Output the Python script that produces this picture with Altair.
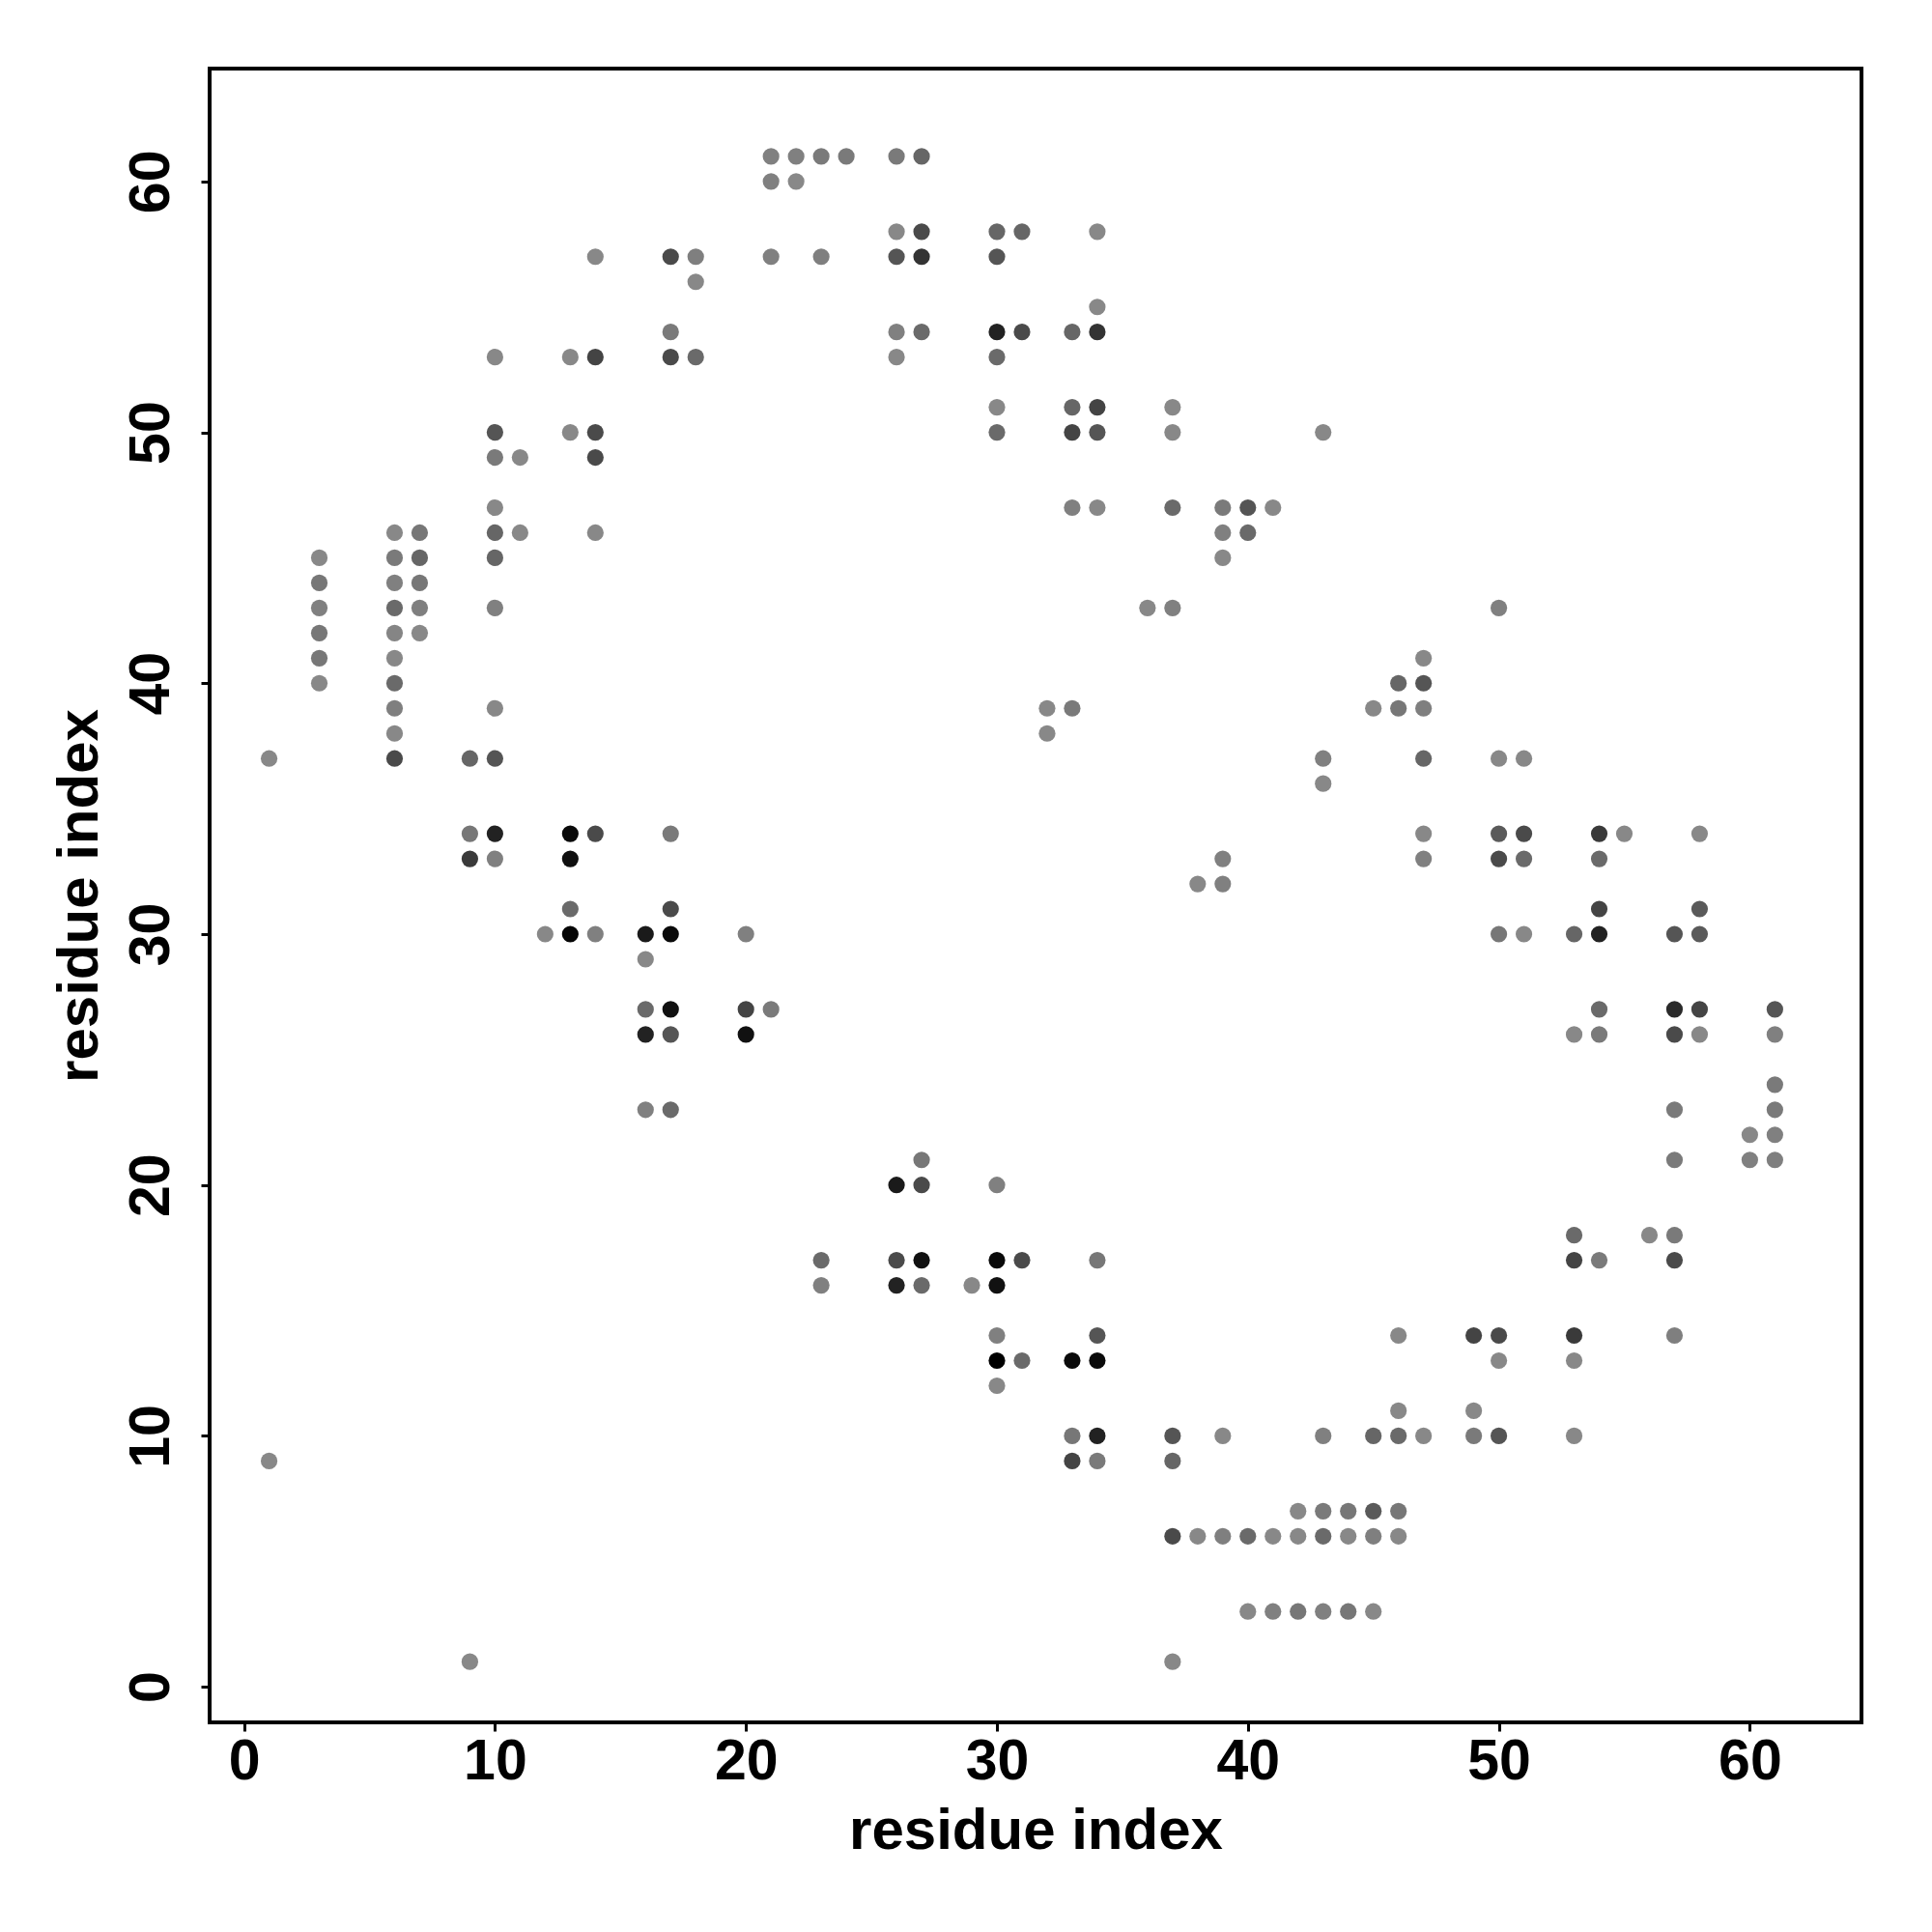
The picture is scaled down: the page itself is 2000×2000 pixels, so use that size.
import altair as alt
import pandas as pd

# residue index pairs (x, y) and grey level (0 = black, 255 = white)
xs = [
    1, 1,
    3, 3, 3, 3, 3, 3,
    6, 6, 6, 6, 6, 6, 6, 6, 6, 6,
    7, 7, 7, 7, 7,
    9, 9, 9, 9,
    10, 10, 10, 10, 10, 10, 10, 10, 10, 10, 10,
    11, 11,
    12,
    13, 13, 13, 13, 13, 13,
    14, 14, 14, 14, 14, 14, 14,
    16, 16, 16, 16, 16,
    17, 17, 17, 17, 17, 17, 17, 17, 17,
    18, 18, 18,
    20, 20, 20,
    21, 21, 21, 21,
    22, 22,
    23, 23, 23, 23,
    24,
    26, 26, 26, 26, 26, 26, 26, 26,
    27, 27, 27, 27, 27, 27, 27, 27,
    29,
    30, 30, 30, 30, 30, 30, 30, 30, 30, 30, 30, 30,
    31, 31, 31, 31,
    32, 32,
    33, 33, 33, 33, 33, 33, 33, 33,
    34, 34, 34, 34, 34, 34, 34, 34, 34, 34, 34,
    36,
    37, 37, 37, 37, 37, 37, 37, 37,
    38, 38,
    39, 39, 39, 39, 39, 39, 39,
    40, 40, 40, 40,
    41, 41, 41,
    42, 42, 42,
    43, 43, 43, 43, 43, 43, 43,
    44, 44, 44,
    45, 45, 45, 45, 45,
    46, 46, 46, 46, 46, 46, 46,
    47, 47, 47, 47, 47, 47, 47,
    49, 49, 49,
    50, 50, 50, 50, 50, 50, 50, 50,
    51, 51, 51, 51,
    53, 53, 53, 53, 53, 53, 53,
    54, 54, 54, 54, 54, 54, 54,
    55,
    56,
    57, 57, 57, 57, 57, 57, 57, 57,
    58, 58, 58, 58, 58,
    60, 60,
    61, 61, 61, 61, 61, 61,
]

ys = [
    37, 9,
    45, 44, 43, 42, 41, 40,
    46, 45, 44, 43, 42, 41, 40, 39, 38, 37,
    46, 45, 44, 43, 42,
    37, 34, 33, 1,
    53, 50, 49, 47, 46, 45, 43, 39, 37, 34, 33,
    49, 46,
    30,
    53, 50, 34, 33, 31, 30,
    57, 53, 50, 49, 46, 34, 30,
    30, 29, 27, 26, 23,
    57, 54, 53, 34, 31, 30, 27, 26, 23,
    57, 56, 53,
    30, 27, 26,
    61, 60, 57, 27,
    61, 60,
    61, 57, 17, 16,
    61,
    61, 58, 57, 54, 53, 20, 17, 16,
    61, 58, 57, 54, 21, 20, 17, 16,
    16,
    58, 57, 54, 53, 51, 50, 20, 17, 16, 14, 13, 12,
    58, 54, 17, 13,
    39, 38,
    54, 51, 50, 47, 39, 13, 10, 9,
    58, 55, 54, 51, 50, 47, 17, 14, 13, 10, 9,
    43,
    51, 50, 47, 43, 10, 9, 6, 1,
    32, 6,
    47, 46, 45, 33, 32, 10, 6,
    47, 46, 6, 3,
    47, 6, 3,
    7, 6, 3,
    50, 37, 36, 10, 7, 6, 3,
    7, 6, 3,
    39, 10, 7, 6, 3,
    40, 39, 14, 11, 10, 7, 6,
    41, 40, 39, 37, 34, 33, 10,
    14, 11, 10,
    43, 37, 34, 33, 30, 14, 13, 10,
    37, 34, 33, 30,
    30, 26, 18, 17, 14, 13, 10,
    34, 33, 31, 30, 27, 26, 17,
    34,
    18,
    30, 27, 26, 23, 21, 18, 17, 14,
    34, 31, 30, 27, 26,
    22, 21,
    27, 26, 24, 23, 22, 21,
]

greys = [
    136, 136,
    136, 119, 128, 119, 119, 136,
    136, 122, 128, 106, 133, 136, 106, 127, 136, 74,
    119, 102, 119, 127, 136,
    102, 119, 58, 136,
    136, 85, 122, 136, 102, 102, 128, 136, 85, 34, 128,
    136, 136,
    136,
    136, 136, 10, 15, 106, 5,
    136, 68, 74, 74, 136, 74, 128,
    26, 136, 106, 34, 128,
    74, 122, 74, 122, 74, 10, 17, 85, 106,
    127, 136, 106,
    128, 68, 17,
    128, 128, 128, 122,
    128, 136,
    122, 127, 106, 128,
    122,
    122, 136, 85, 128, 136, 26, 74, 34,
    102, 74, 51, 106, 119, 74, 17, 106,
    136,
    102, 85, 34, 106, 136, 106, 128, 10, 17, 128, 0, 136,
    102, 74, 74, 106,
    136, 136,
    102, 102, 68, 128, 122, 10, 119, 68,
    136, 136, 51, 68, 85, 136, 119, 85, 10, 34, 122,
    136,
    136, 136, 106, 128, 85, 102, 74, 136,
    136, 136,
    122, 128, 136, 128, 128, 136, 127,
    85, 106, 106, 136,
    136, 136, 128,
    136, 136, 119,
    136, 128, 136, 128, 122, 106, 128,
    119, 136, 119,
    136, 102, 90, 127, 136,
    102, 119, 136, 136, 106, 119, 136,
    136, 85, 127, 102, 136, 128, 136,
    68, 136, 122,
    128, 136, 90, 74, 119, 74, 136, 85,
    136, 74, 106, 136,
    102, 136, 106, 68, 58, 136, 136,
    58, 106, 68, 34, 106, 122, 122,
    136,
    136,
    85, 42, 74, 122, 122, 122, 74, 127,
    136, 90, 90, 68, 136,
    136, 128,
    85, 128, 122, 122, 128, 127,
]

tick_values = [0, 10, 20, 30, 40, 50, 60]

df = pd.DataFrame({"x": xs, "y": ys, "grey": greys})

FONT = "Liberation Sans"

chart = (
    alt.Chart(df)
    .mark_circle(size=295, opacity=1)
    .encode(
        x=alt.X(
            "x:Q",
            scale=alt.Scale(domain=[-1.37, 64.45], nice=False, zero=False),
            axis=alt.Axis(
                values=tick_values,
                title="residue index",
                grid=False,
                domain=False,
                tickSize=9,
                tickWidth=3,
                tickColor="black",
                labelFont=FONT,
                labelFontWeight="bold",
                labelFontSize=59,
                labelColor="black",
                labelBaseline="alphabetic",
                labelPadding=49,
                labelFlush=False,
                labelOverlap=False,
                titleFont=FONT,
                titleFontWeight="bold",
                titleFontSize=60,
                titleColor="black",
                titleBaseline="alphabetic",
                titleAlign="center",
                titleX=855,
                titleY=130,
            ),
        ),
        y=alt.Y(
            "y:Q",
            scale=alt.Scale(domain=[-1.42, 64.5], nice=False, zero=False),
            axis=alt.Axis(
                values=tick_values,
                title="residue index",
                grid=False,
                domain=False,
                tickSize=9,
                tickWidth=3,
                tickColor="black",
                labelFont=FONT,
                labelFontWeight="bold",
                labelFontSize=59,
                labelColor="black",
                labelAngle=270,
                labelAlign="center",
                labelBaseline="alphabetic",
                labelPadding=34,
                labelFlush=False,
                labelOverlap=False,
                titleFont=FONT,
                titleFontWeight="bold",
                titleFontSize=60,
                titleColor="black",
                titleAngle=270,
                titleBaseline="alphabetic",
                titleAlign="center",
                titleX=-117,
                titleY=856,
            ),
        ),
        color=alt.Color(
            "grey:Q",
            scale=alt.Scale(domain=[0, 255], range=["#000000", "#ffffff"], interpolate="rgb"),
            legend=None,
        ),
    )
    .properties(
        width=1710,
        height=1712,
        autosize=alt.AutoSizeParams(type="none"),
        padding={"left": 209, "top": 63, "right": 65, "bottom": 200},
    )
    .configure_view(stroke="black", strokeWidth=4)
)

chart.save("out.html", embed_options={"renderer": "svg", "actions": False})
